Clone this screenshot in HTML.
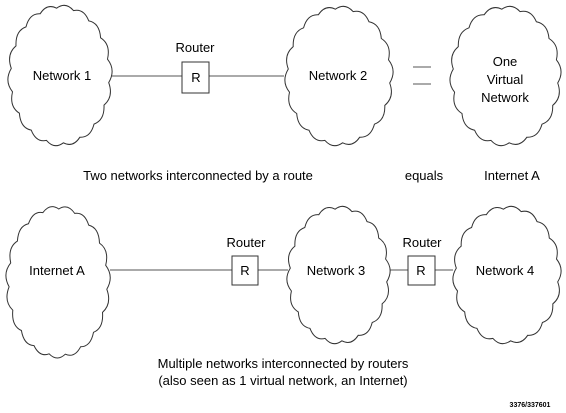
<!DOCTYPE html>
<html><head><meta charset="utf-8"><style>
html,body{margin:0;padding:0;background:#fff;}
svg{display:block;font-family:"Liberation Sans",Arial,sans-serif;}
text{font-size:13px;fill:#000;}
</style></head><body>
<svg id="s" width="566" height="413" viewBox="0 0 566 413">
<g stroke="#555" stroke-width="1" fill="none">
<line x1="112" y1="76" x2="182" y2="76"/>
<line x1="209" y1="76" x2="284" y2="76"/>
<rect x="182" y="62" width="27" height="31" fill="#fff" stroke="#333"/>
<line x1="413" y1="67" x2="431" y2="67"/>
<line x1="413" y1="84" x2="431" y2="84"/>
<line x1="110" y1="270" x2="232" y2="270"/>
<line x1="258" y1="270" x2="288" y2="270"/>
<rect x="232" y="256" width="26" height="29" fill="#fff" stroke="#333"/>
<line x1="390" y1="270" x2="408" y2="270"/>
<line x1="435" y1="270" x2="453" y2="270"/>
<rect x="408" y="256" width="27" height="29" fill="#fff" stroke="#333"/>
</g>
<g id="clouds" stroke="#333" stroke-width="1" fill="#fff"></g>
<text x="62" y="80" text-anchor="middle">Network 1</text>
<text x="195" y="52" text-anchor="middle">Router</text>
<text x="196" y="82" text-anchor="middle">R</text>
<text x="338" y="80" text-anchor="middle">Network 2</text>
<text x="505" y="66" text-anchor="middle">One</text>
<text x="505" y="84" text-anchor="middle">Virtual</text>
<text x="505" y="102" text-anchor="middle">Network</text>
<text x="198" y="180" text-anchor="middle">Two networks interconnected by a route</text>
<text x="424" y="180" text-anchor="middle">equals</text>
<text x="512" y="180" text-anchor="middle">Internet A</text>
<text x="57" y="275" text-anchor="middle">Internet A</text>
<text x="246" y="247" text-anchor="middle">Router</text>
<text x="245" y="275" text-anchor="middle">R</text>
<text x="336" y="275" text-anchor="middle">Network 3</text>
<text x="422" y="247" text-anchor="middle">Router</text>
<text x="421" y="275" text-anchor="middle">R</text>
<text x="505" y="275" text-anchor="middle">Network 4</text>
<text x="283" y="368" text-anchor="middle">Multiple networks interconnected by routers</text>
<text x="283" y="385" text-anchor="middle">(also seen as 1 virtual network, an Internet)</text>
<text x="530" y="407" text-anchor="middle" style="font-size:7px;font-weight:bold">3376/337601</text>
</svg>
<script>
function cloud(x0,y0,x1,y1,n){
 var cx=(x0+x1)/2,cy=(y0+y1)/2,rx=(x1-x0)/2-5,ry=(y1-y0)/2-5,pts=[];
 for(var i=0;i<n;i++){var a=(i+0.3)/n*2*Math.PI;pts.push([cx+rx*Math.cos(a),cy+ry*Math.sin(a)]);}
 var d="M"+pts[0][0].toFixed(1)+","+pts[0][1].toFixed(1);
 for(var i=0;i<n;i++){var p=pts[i],q=pts[(i+1)%n];
  var mx=(p[0]+q[0])/2,my=(p[1]+q[1])/2;
  var ox=mx-cx,oy=my-cy,l=Math.sqrt(ox*ox+oy*oy);
  var k=8;var c1=mx+ox/l*k,c2=my+oy/l*k;
  d+=" Q"+(c1).toFixed(1)+","+(c2).toFixed(1)+" "+q[0].toFixed(1)+","+q[1].toFixed(1);}
 return d+"Z";
}
var g=document.getElementById("clouds");
[[6,3,114,148,18],[283,4,395,148,18],[448,4,563,148,18],[4,204,112,360,19],[285,204,392,346,18],[451,204,563,346,18]].forEach(function(c){
 var p=document.createElementNS("http://www.w3.org/2000/svg","path");
 p.setAttribute("d",cloud(c[0],c[1],c[2],c[3],c[4]));g.appendChild(p);});
</script>
</body></html>
